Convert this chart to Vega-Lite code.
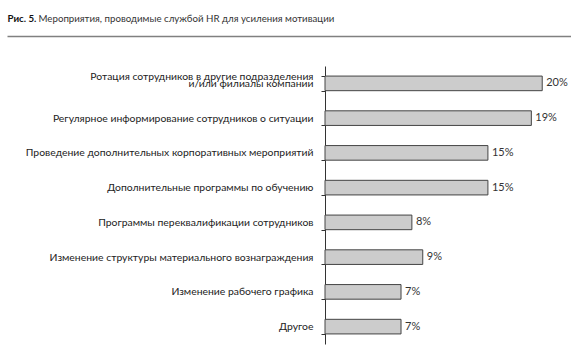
{
  "$schema": "https://vega.github.io/schema/vega-lite/v6.json",
  "background": "white",
  "padding": {"left": 7, "top": 13, "right": 0, "bottom": 4},
  "width": 564,
  "height": 278,
  "config": {
    "view": {"stroke": null},
    "font": "Lato"
  },
  "data": {
    "values": [
      {"item": "Ротация сотрудников в другие подразделения|и/или филиалы компании", "value": 0.20},
      {"item": "Регулярное информирование сотрудников о ситуации", "value": 0.19},
      {"item": "Проведение дополнительных корпоративных мероприятий", "value": 0.15},
      {"item": "Дополнительные программы по обучению", "value": 0.15},
      {"item": "Программы переквалификации сотрудников", "value": 0.08},
      {"item": "Изменение структуры материального вознаграждения", "value": 0.09},
      {"item": "Изменение рабочего графика", "value": 0.07},
      {"item": "Другое", "value": 0.07}
    ]
  },
  "encoding": {
    "y": {
      "field": "item",
      "type": "nominal",
      "sort": null,
      "scale": {"paddingInner": 0.58, "paddingOuter": 0.29},
      "axis": {
        "offset": -318,
        "tickBand": "extent",
        "tickSize": 4,
        "labelPadding": 8,
        "labelFont": "Lato",
        "labelFontSize": 10.4,
        "labelColor": "#222",
        "labelExpr": "indexof(datum.label, '|') >= 0 ? [split(datum.label, '|')[0], '', split(datum.label, '|')[1]] : ['', datum.label]",
        "labelLineHeight": 6.5,
        "labelOffset": -6.5,
        "labelLimit": 400,
        "domainColor": "#333",
        "tickColor": "#333",
        "title": "Мероприятия, проводимые службой HR для усиления мотивации",
        "titleFont": "Lato",
        "titleFontSize": 9.7,
        "titleFontWeight": "normal",
        "titleColor": "#333",
        "titleAngle": 0,
        "titleAlign": "left",
        "titleBaseline": "alphabetic",
        "titleX": -287,
        "titleY": -45
      }
    },
    "x": {
      "field": "value",
      "type": "quantitative",
      "scale": {"domain": [-0.2928, 0.2265], "nice": false, "zero": false},
      "axis": {
        "orient": "top",
        "offset": 30,
        "domain": true,
        "domainColor": "#808080",
        "domainWidth": 1.5,
        "ticks": false,
        "labels": false,
        "grid": false,
        "title": "Рис. 5.",
        "titleFont": "Lato",
        "titleFontSize": 9.7,
        "titleFontWeight": "bold",
        "titleColor": "#111",
        "titleAngle": 0,
        "titleAlign": "left",
        "titleBaseline": "alphabetic",
        "titleX": 0,
        "titleY": -15
      }
    }
  },
  "layer": [
    {
      "mark": {"type": "bar", "fill": "#cccccc", "stroke": "#444444", "strokeWidth": 1},
      "encoding": {"x2": {"datum": 0}}
    },
    {
      "mark": {"type": "text", "align": "left", "dx": 4, "fontSize": 11, "color": "#333"},
      "encoding": {"text": {"field": "value", "format": ".0%"}}
    }
  ]
}
